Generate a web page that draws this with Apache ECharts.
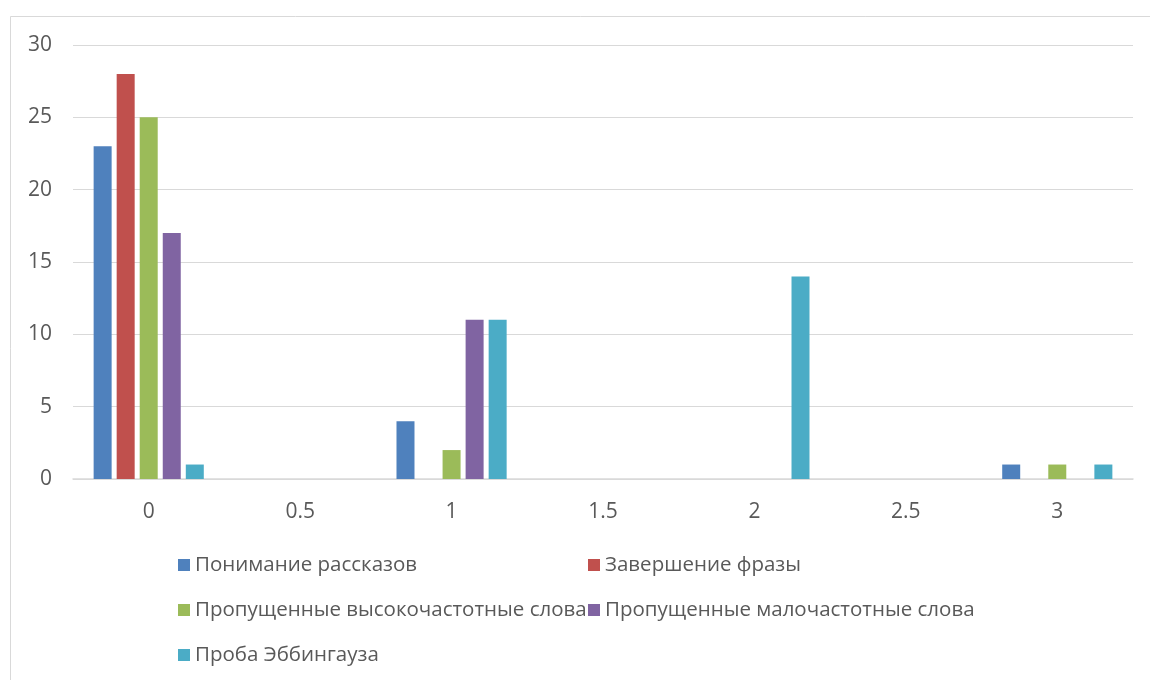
<!DOCTYPE html>
<html>
<head>
<meta charset="utf-8">
<script src="https://cdn.jsdelivr.net/npm/echarts@6/dist/echarts.min.js"></script>
<style>
  html, body { margin: 0; padding: 0; background: #fff; }
  #chart { width: 1150px; height: 680px; }
</style>
</head>
<body>
<div id="chart"></div>
<script>
// Scores (x) and number of subjects per test (y)
const scores = [0, 1, 2, 3];
const seriesNames = [
  'Понимание рассказов',
  'Завершение фразы',
  'Пропущенные высокочастотные слова',
  'Пропущенные малочастотные слова',
  'Проба Эббингауза'
];
const storyComprehension = [23, 4, 0, 1];
const phraseCompletion = [28, 0, 0, 0];
const missedHighFreq = [25, 2, 0, 1];
const missedLowFreq = [17, 11, 0, 0];
const ebbinghausTest = [1, 11, 14, 1];
const yTicks = [0, 5, 10, 15, 20, 25, 30];

const colors = ['#4F81BD', '#C0504D', '#9BBB59', '#8064A2', '#4BACC6'];
const valuesList = [storyComprehension, phraseCompletion, missedHighFreq, missedLowFreq, ebbinghausTest];
const FONT = '"Open Sans"';
const TEXT = '#595959';

const series = seriesNames.map((name, i) => ({
  name: name,
  type: 'bar',
  barWidth: 18,
  barGap: '28%',
  itemStyle: { color: colors[i] },
  data: scores.map((s, j) => [s, valuesList[i][j]])
}));

const legendText = { fontFamily: FONT, fontSize: 20.5, color: TEXT, lineHeight: 22 };

const chart = echarts.init(document.getElementById('chart'));
chart.setOption({
  animation: false,
  backgroundColor: '#fff',
  graphic: [{
    type: 'rect',
    shape: { x: 10.5, y: 16.5, width: 1200, height: 800 },
    style: { fill: 'none', stroke: '#d9d9d9', lineWidth: 1 },
    silent: true
  }],
  grid: { left: 73, right: 17, top: 45, bottom: 201, containLabel: false },
  legend: [
    {
      orient: 'vertical', left: 173, top: 549, itemGap: 23,
      itemWidth: 12, itemHeight: 12, icon: 'rect',
      textStyle: legendText,
      data: [seriesNames[0], seriesNames[2], seriesNames[4]]
    },
    {
      orient: 'vertical', left: 583, top: 549, itemGap: 23,
      itemWidth: 12, itemHeight: 12, icon: 'rect',
      textStyle: legendText,
      data: [seriesNames[1], seriesNames[3]]
    }
  ],
  xAxis: {
    type: 'value',
    min: -0.25, max: 3.25, interval: 0.25,
    splitLine: { show: false },
    axisTick: { show: false },
    axisLine: { show: true, onZero: false, lineStyle: { color: '#d9d9d9', width: 1.5 } },
    axisLabel: {
      margin: 23,
      fontFamily: FONT, fontSize: 21, color: TEXT,
      formatter: v => {
        const d = v * 2;
        return (v >= 0 && v <= 3 && Math.abs(d - Math.round(d)) < 1e-9) ? String(v) : '';
      }
    }
  },
  yAxis: {
    type: 'value',
    min: yTicks[0], max: yTicks[yTicks.length - 1], interval: 5,
    axisLine: { show: false },
    axisTick: { show: false },
    splitLine: { lineStyle: { color: '#d9d9d9', width: 1 } },
    axisLabel: { margin: 21, fontFamily: FONT, fontSize: 21, color: TEXT }
  },
  series: series
});
</script>
</body>
</html>
